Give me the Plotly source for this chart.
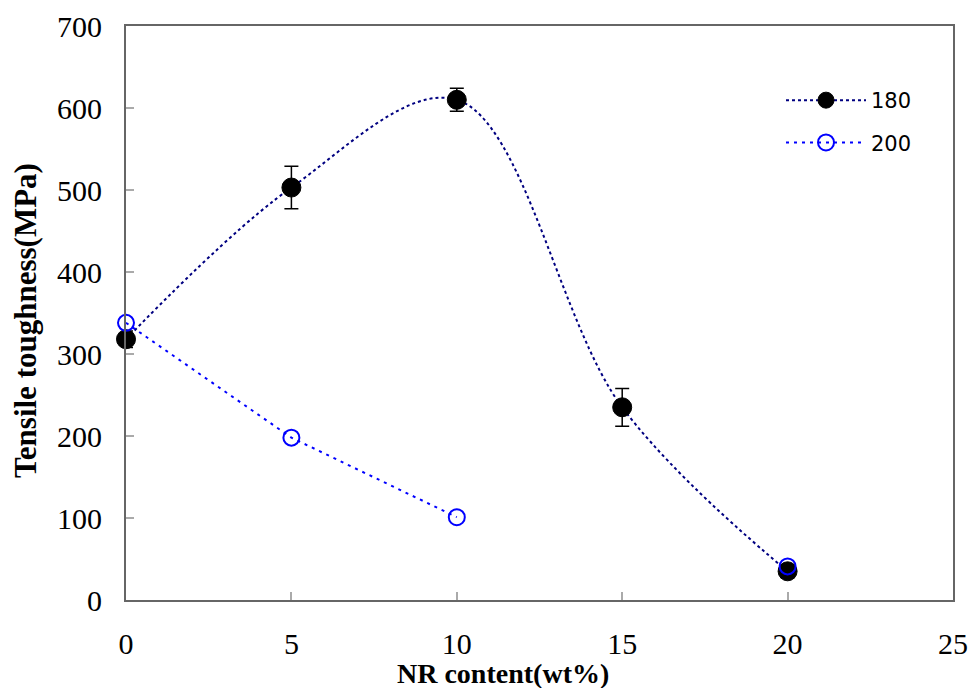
import plotly.graph_objects as go

nr_content = [0, 5, 10, 15, 20]
tough_180 = [318, 503, 610, 235, 35]
err_180 = [10, 26, 14, 23, 8]
nr_content_200 = [0, 5, 10, 15, 20]
tough_200 = [338, 198, 101, None, 41]

fig = go.Figure()
fig.add_trace(go.Scatter(
    x=nr_content, y=tough_180, name="180", mode="lines+markers", legendgroup="a",
    line=dict(color="#000080", width=2, dash="dot", shape="spline", smoothing=1.0),
    marker=dict(color="black", size=19, line=dict(color="black", width=1)),
    error_y=dict(type="data", array=err_180, color="black", thickness=1.5, width=7),
    cliponaxis=False,
))
fig.add_trace(go.Scatter(
    x=nr_content_200, y=tough_200, name="200", mode="lines+markers", legendgroup="b",
    line=dict(color="#0000FF", width=2, dash="3px,5px"),
    marker=dict(color="rgba(0,0,0,0)", size=16, line=dict(color="#0000FF", width=2)),
    connectgaps=False, cliponaxis=False,
))

W, H = 969, 688
L, R, T, B = 126, 16, 26, 88
pw = W - L - R
ph = H - T - B

tickfont = dict(family="Liberation Serif", size=30, color="black")
fig.update_layout(
    width=W, height=H,
    margin=dict(l=L, r=R, t=T, b=B),
    plot_bgcolor="white", paper_bgcolor="white",
    showlegend=True,
    legend=dict(x=(786 - L - 5) / pw, y=1 - (80 - T) / ph, xanchor="left", yanchor="top",
                bgcolor="rgba(0,0,0,0)",
                font=dict(family="DejaVu Sans", size=21, color="black"),
                itemwidth=80, tracegroupgap=12),
    xaxis=dict(range=[0, 25], tickvals=[0, 5, 10, 15, 20, 25], showgrid=False, zeroline=False,
               showline=True, linecolor="#666", linewidth=2, mirror=True,
               ticks="inside", ticklen=8, tickcolor="#aaa", tickwidth=1.5,
               tickfont=tickfont, ticklabelstandoff=16, automargin=False),
    yaxis=dict(range=[0, 700], tickvals=[0, 100, 200, 300, 400, 500, 600, 700], showgrid=False, zeroline=False,
               showline=True, linecolor="#666", linewidth=2, mirror=True,
               ticks="inside", ticklen=8, tickcolor="#aaa", tickwidth=1.5,
               tickfont=tickfont, ticklabelstandoff=16, automargin=False),
    annotations=[
        dict(text="<b>NR content(wt%)</b>", x=(503 - L) / pw, y=-(673 - (H - B)) / ph,
             xref="paper", yref="paper", showarrow=False, xanchor="center", yanchor="middle",
             font=dict(family="Liberation Serif", size=28, color="black")),
        dict(text="<b>Tensile toughness(MPa)</b>", x=0, y=1 - (321 - T) / ph, xref="paper", yref="paper",
             showarrow=False, textangle=-90, xanchor="center", yanchor="middle", xshift=-(L - 25),
             font=dict(family="Liberation Serif", size=31, color="black")),
    ],
)
fig.write_html("out.html")
